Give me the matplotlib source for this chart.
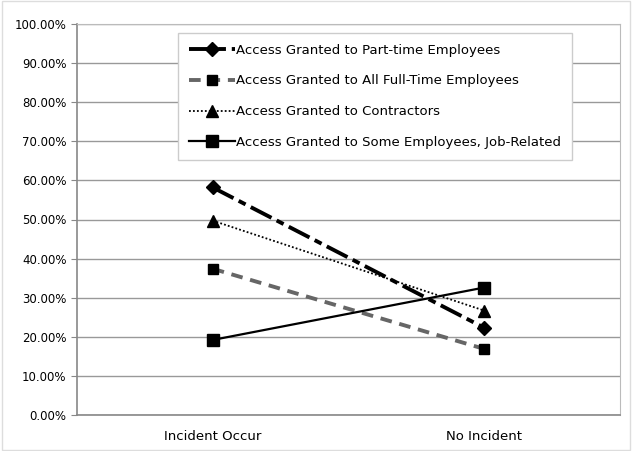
import matplotlib.pyplot as plt
from matplotlib.ticker import FuncFormatter
from matplotlib.patches import Rectangle

# data
categories = ["Incident Occur", "No Incident"]
part_time = [58.2, 22.3]
full_time = [37.4, 16.9]
contractors = [49.7, 26.7]
some_employees = [19.2, 32.6]

fig = plt.figure(figsize=(6.32, 4.51), dpi=100)
ax = fig.add_axes([77 / 632, 1 - 415 / 451, (620 - 77) / 632, (415 - 24) / 451])

x = [0, 1]
ax.plot(x, part_time, color="black", lw=2.8, ls=(0, (6, 1.5, 2, 1.5)), marker="D", ms=7,
        label="Access Granted to Part-time Employees")
ax.plot(x, full_time, color="#666666", lw=2.8, ls=(0, (3, 2)), marker="s", ms=7.5,
        mfc="black", mec="black", label="Access Granted to All Full-Time Employees")
ax.plot(x, contractors, color="black", lw=1.3, ls=(0, (1, 1.2)), marker="^", ms=8,
        label="Access Granted to Contractors")
ax.plot(x, some_employees, color="black", lw=1.6, ls="-", marker="s", ms=8.5,
        label="Access Granted to Some Employees, Job-Related")

ax.set_xlim(-0.5, 1.5)
ax.set_ylim(0, 100)
ax.set_xticks(x)
ax.set_xticklabels(categories, fontsize=9.5)
ax.set_yticks(range(0, 101, 10))
ax.yaxis.set_major_formatter(FuncFormatter(lambda v, p: f"{v:.2f}%"))
ax.tick_params(axis="y", labelsize=8.5, length=4, color="#888888")
ax.tick_params(axis="x", length=0, pad=11)
ax.grid(axis="y", color="#999999", lw=1)
ax.set_axisbelow(True)

for side in ["top", "right"]:
    ax.spines[side].set_color("#bbbbbb")
for side in ["left", "bottom"]:
    ax.spines[side].set_color("#888888")
    ax.spines[side].set_linewidth(1.2)

leg = ax.legend(loc="upper left", bbox_to_anchor=((178 - 77) / 543, (415 - 33) / 391),
                borderaxespad=0, fontsize=9.5, frameon=True, fancybox=False,
                edgecolor="#cccccc", framealpha=1, handlelength=3.5,
                labelspacing=1.35, borderpad=0.8, handletextpad=0.1)
leg.get_frame().set_linewidth(1)

# light border around the whole figure
fig.patches.append(Rectangle((0.003, 0.003), 0.994, 0.994, transform=fig.transFigure,
                             fill=False, edgecolor="#dddddd", lw=1))

plt.savefig("out.png")
